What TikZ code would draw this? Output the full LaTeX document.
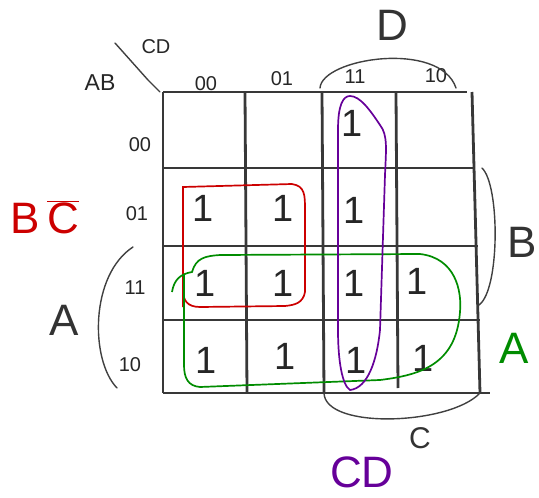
\documentclass[tikz,border=0pt]{standalone}
\usepackage{fontspec}
\setmainfont{Liberation Sans}
\begin{document}
\begin{tikzpicture}[x=1pt,y=-1pt,
  grid/.style={draw=black!78, line width=2.8pt},
  pen/.style={draw=black!75, line width=1.4pt, line cap=round},
  lbl/.style={font=\fontsize{20}{20}\selectfont, text=black!85},
  one/.style={font=\fontsize{38}{38}\selectfont, text=black!85},
  big/.style={font=\fontsize{44}{44}\selectfont},
  redloop/.style={draw=red!80!black, line width=1.7pt},
  greenloop/.style={draw=green!55!black, line width=1.7pt},
  purpleloop/.style={draw=violet!80!blue, line width=1.7pt}]
\useasboundingbox (0,0) rectangle (539,498);
% grid
\draw[grid] (163,92) -- (467,92);
\draw[grid] (163,168) -- (475,168);
\draw[grid] (163,246) -- (478,246);
\draw[grid] (163,320) -- (480,320);
\draw[grid] (163,393) -- (490,393);
\draw[grid] (163,92) -- (163,393);
\draw[grid] (245,92) -- (247,393);
\draw[grid] (322,92) -- (324,393);
\draw[grid] (396,92) -- (398,388);
\draw[grid] (472,92) -- (480,393);
% corner label
\draw[pen] (115,43) -- (148,80) -- (160,92);
\node[lbl] (cd) at (156,47) {CD};
\node[lbl, font=\fontsize{23}{23}\selectfont] (ab) at (100,83) {AB};
% column headers
\node[lbl] (c00) at (206,84) {00};
\node[lbl] (c01) at (282,79) {01};
\node[lbl] (c11) at (355,77) {11};
\node[lbl] (c10) at (436,76) {10};
% row headers
\node[lbl] (r00) at (140,145) {00};
\node[lbl] (r01) at (137,214) {01};
\node[lbl] (r11) at (135,288) {11};
\node[lbl] (r10) at (130,365) {10};
% ones
\foreach \n/\x/\y in {a/352/123, b/203/208, c/283/208, d/354/210,
  e/205/283, f/283/283, g/354/283, h/417/281,
  i/206/360, j/285/356, k/356/360, l/423/358}
  \node[one] (o\n) at (\x,\y) {1};
% braces
\coordinate (dL) at (320,88);
\coordinate (dR) at (456,88);
\draw[pen] (dL) .. controls (322,58) and (440,40) .. (dR);
\node[big, text=black!80] (dlbl) at (392,25) {D};
\coordinate (bT) at (482,168);
\coordinate (bB) at (479,305);
\draw[pen] (bT) .. controls (500,185) and (500,290) .. (bB);
\node[big, text=black!80] (blbl) at (522,242) {B};
\coordinate (aT) at (133,247);
\coordinate (aB) at (117,388);
\draw[pen] (aT) .. controls (90,275) and (90,360) .. (aB);
\node[big, text=black!80] (albl) at (64,320) {A};
\coordinate (cL) at (324,393);
\coordinate (cR) at (480,393);
\draw[pen] (cL) .. controls (325,430) and (450,425) .. (cR);
\node[font=\fontsize{30}{30}\selectfont, text=black!80] (clbl) at (420,438) {C};
% loops
\draw[redloop] (183,307) -- (183,187) -- (292,184)
  .. controls (305,186) and (305,195) .. (305,210) -- (305,292)
  .. controls (303,303) and (295,305) .. (285,306) -- (200,307)
  .. controls (187,307) and (183,300) .. (183,290);
\draw[greenloop] (172,292) .. controls (174,280) and (180,274) .. (192,272)
  .. controls (196,258) and (205,256) .. (220,255) -- (420,254)
  .. controls (455,258) and (462,290) .. (460,312)
  .. controls (456,365) and (420,375) .. (380,380) -- (200,387)
  .. controls (188,386) and (184,378) .. (184,365) -- (184,275);
\draw[purpleloop] (350,96) .. controls (360,96) and (370,110) .. (380,125)
  .. controls (388,135) and (386,150) .. (385,175) -- (380,330)
  .. controls (377,360) and (368,388) .. (350,390)
  .. controls (342,385) and (338,360) .. (338,330) -- (338,130)
  .. controls (338,105) and (343,96) .. (350,96);
% function labels
\node[big, text=red!80!black] (bc) at (45,217) {B\,$\overline{\mbox{C}}$};
\node[big, text=green!55!black] (alab) at (514,348) {A};
\node[big, text=violet!80!blue] (cdlab) at (362,472) {CD};
\end{tikzpicture}
\end{document}
